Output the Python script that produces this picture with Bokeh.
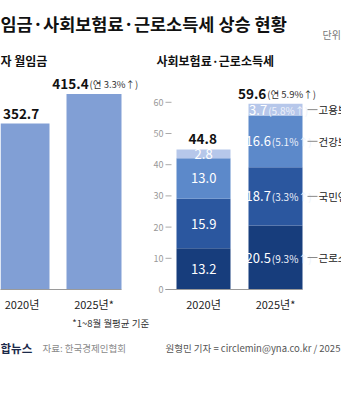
import numpy as np
from bokeh.plotting import figure
from bokeh.models import Range1d
from bokeh.core.properties import value
from bokeh.embed import file_html
from bokeh.resources import INLINE

# ---------------- data ----------------
years = ["2020년", "2025년*"]
wage_values = [352.7, 415.4]
wage_changes = ["", "(연 3.3%↑)"]

ins_items = ["근로소득세", "국민연금", "건강보험", "고용보험"]
ins_2020 = [13.2, 15.9, 13.0, 2.8]
ins_2025 = [20.5, 18.7, 16.6, 3.7]
ins_2025_changes = ["(9.3%↑)", "(3.3%↑)", "(5.1%↑)", "(5.8%↑)"]
ins_totals = [44.8, 59.6]
ins_total_changes = ["", "(연 5.9%↑)"]
ins_ticks = [0, 10, 20, 30, 40, 50, 60]

# ---------------- style ----------------
FONT = value("Noto Sans CJK KR")
WAGE_COLOR = "#819fd5"
SEG_COLORS = ["#173d7c", "#2b579f", "#5c89ca", "#b6c7ea"]
W, H = 341, 400

p = figure(width=W, height=H, x_range=Range1d(0, W), y_range=Range1d(H, 0),
           x_axis_type=None, y_axis_type=None, toolbar_location=None,
           output_backend="svg", min_border=0, outline_line_color=None,
           background_fill_color="white", border_fill_color="white")

# pixel geometry -> extra ranges
base_px = 289
# left chart
l_c0, l_sp = 21.5, 72.0
l_scale = 166.0 / 352.7
p.extra_x_ranges["wl"] = Range1d(-l_c0 / l_sp, (W - l_c0) / l_sp)
p.extra_y_ranges["vl"] = Range1d(-(H - base_px) / l_scale, base_px / l_scale)
# right chart
r_c0, r_sp = 203.0, 72.0
r_scale = 3.12
p.extra_x_ranges["wr"] = Range1d(-r_c0 / r_sp, (W - r_c0) / r_sp)
p.extra_y_ranges["vr"] = Range1d(-(H - base_px) / r_scale, base_px / r_scale)

L_W = 55 / l_sp
R_W = 54 / r_sp


def est_w(s, size):
    w = 0.0
    for ch in s:
        if ch.isdigit():
            w += 0.57
        elif ch in ".":
            w += 0.27
        elif ch in "()":
            w += 0.32
        elif ch == "%":
            w += 0.85
        elif ch == "↑":
            w += 0.6
        elif ch == " ":
            w += 0.26
        else:
            w += 1.0
    return w * size


def pair_label(xr, yr, x, y, num, paren, ns, ps, color, bold, yoff, pcolor=None):
    wn = est_w(num, ns)
    wp = est_w(paren, ps) if paren else 0.0
    xo = -(wn + wp) / 2 + wn
    p.text(x=[x], y=[y], text=[num], x_range_name=xr, y_range_name=yr,
           text_align="right", text_baseline="middle", x_offset=xo, y_offset=yoff,
           text_font=FONT, text_font_size=f"{ns}px",
           text_font_style="bold" if bold else "normal", text_color=color)
    if paren:
        p.text(x=[x], y=[y], text=[paren], x_range_name=xr, y_range_name=yr,
               text_align="left", text_baseline="middle", x_offset=xo + 1, y_offset=yoff + 0.5,
               text_font=FONT, text_font_size=f"{ps}px", text_color=pcolor or color)


# ---------------- titles ----------------
p.text(x=[0], y=[23], text=["임금·사회보험료·근로소득세 상승 현황"], text_font=FONT,
       text_font_size="17.5px", text_font_style="bold", text_color="#111111",
       text_baseline="middle")
p.text(x=[322], y=[34], text=["단위"], text_font=FONT, text_font_size="10px",
       text_color="#777777", text_baseline="middle")
p.text(x=[0], y=[60], text=["자 월임금"], text_font=FONT, text_font_size="12px",
       text_font_style="bold", text_color="#111111", text_baseline="middle")
p.text(x=[156], y=[60], text=["사회보험료·근로소득세"], text_font=FONT, text_font_size="12px",
       text_font_style="bold", text_color="#111111", text_baseline="middle")

# ---------------- left chart: wages ----------------
xs_l = np.arange(len(years))
p.vbar(x=xs_l, width=L_W, bottom=0, top=wage_values, x_range_name="wl",
       y_range_name="vl", fill_color=WAGE_COLOR, line_color=None)
p.segment(x0=[-0.5], x1=[xs_l[-1] + L_W / 2], y0=[0], y1=[0], x_range_name="wl",
          y_range_name="vl", line_color="#9a9a9a", line_width=1)
for i, (v, c) in enumerate(zip(wage_values, wage_changes)):
    pair_label("wl", "vl", xs_l[i], v, f"{v:.1f}", c, 13.5, 9.5, "#111111", True, -10,
               pcolor="#333333")
p.text(x=xs_l, y=[0] * len(years), text=years, x_range_name="wl", y_range_name="vl",
       text_align="center", text_baseline="middle", y_offset=14, text_font=FONT,
       text_font_size="11px", text_color="#222222")
p.text(x=[xs_l[-1] - L_W / 2 + 0.08], y=[0], text=["*1~8월 월평균 기준"], x_range_name="wl",
       y_range_name="vl", text_align="left", text_baseline="middle", y_offset=33,
       text_font=FONT, text_font_size="9.5px", text_color="#333333")

# ---------------- right chart: insurance + tax ----------------
xs_r = np.arange(len(years))
stacks = [ins_2020, ins_2025]
for k in range(len(ins_items)):
    bottoms = [sum(s[:k]) for s in stacks]
    tops = [sum(s[:k + 1]) for s in stacks]
    p.vbar(x=xs_r, width=R_W, bottom=bottoms, top=tops, x_range_name="wr",
           y_range_name="vr", fill_color=SEG_COLORS[k], line_color=None)

# y ticks
tick_x0 = -(r_c0 - 165) / r_sp
tick_x1 = -(r_c0 - 171) / r_sp
p.segment(x0=[tick_x0] * len(ins_ticks), x1=[tick_x1] * len(ins_ticks), y0=ins_ticks,
          y1=ins_ticks, x_range_name="wr", y_range_name="vr", line_color="#aaaaaa",
          line_width=1)
p.text(x=[tick_x0] * len(ins_ticks), y=ins_ticks, text=[str(t) for t in ins_ticks],
       x_range_name="wr", y_range_name="vr", text_align="right", text_baseline="middle",
       x_offset=-2, text_font=FONT, text_font_size="9px", text_color="#999999")
p.segment(x0=[tick_x0], x1=[xs_r[-1] + R_W / 2], y0=[0], y1=[0], x_range_name="wr",
          y_range_name="vr", line_color="#9a9a9a", line_width=1)

# segment labels
for k in range(len(ins_items)):
    mid0 = sum(ins_2020[:k]) + ins_2020[k] / 2
    pair_label("wr", "vr", xs_r[0], mid0, f"{ins_2020[k]:.1f}", "", 13, 9, "white", False, 0)
    mid1 = sum(ins_2025[:k]) + ins_2025[k] / 2
    pair_label("wr", "vr", xs_r[1], mid1, f"{ins_2025[k]:.1f}", ins_2025_changes[k], 13, 10,
               "white", False, 0, pcolor="#eef2fb")
    # connector + category name
    p.segment(x0=[xs_r[1] + R_W / 2 + 5 / r_sp], x1=[xs_r[1] + R_W / 2 + 15 / r_sp],
              y0=[mid1], y1=[mid1], x_range_name="wr", y_range_name="vr",
              line_color="#888888", line_width=1)
    p.text(x=[xs_r[1] + R_W / 2 + 16 / r_sp], y=[mid1], text=[ins_items[k]],
           x_range_name="wr", y_range_name="vr", text_align="left", text_baseline="middle",
           text_font=FONT, text_font_size="10.5px", text_color="#222222")

# totals
for i, (t, c) in enumerate(zip(ins_totals, ins_total_changes)):
    pair_label("wr", "vr", xs_r[i], sum(stacks[i]), f"{t:.1f}", c, 13.5, 9.5, "#111111", True,
               -10, pcolor="#333333")

p.text(x=xs_r, y=[0] * len(years), text=years, x_range_name="wr", y_range_name="vr",
       text_align="center", text_baseline="middle", y_offset=14, text_font=FONT,
       text_font_size="11px", text_color="#222222")

# ---------------- footer ----------------
p.text(x=[0], y=[347], text=["합뉴스"], text_font=FONT, text_font_size="11.5px",
       text_font_style="bold", text_color="#1b2a4a", text_baseline="middle")
p.text(x=[42], y=[347], text=["자료: 한국경제인협회"], text_font=FONT, text_font_size="9.5px",
       text_color="#8a8a8a", text_baseline="middle")
p.text(x=[165], y=[347], text=["원형민 기자 = circlemin@yna.co.kr / 2025"], text_font=FONT,
       text_font_size="9.5px", text_color="#555555", text_baseline="middle")

open("out.html", "w").write(file_html(p, INLINE))
